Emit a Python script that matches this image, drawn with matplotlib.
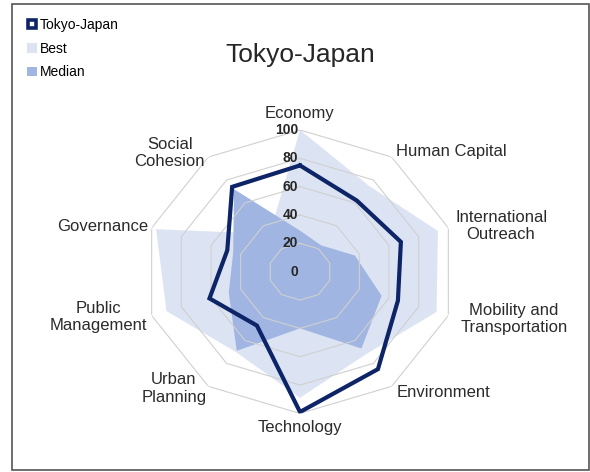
import numpy as np
import matplotlib
matplotlib.use("Agg")
import matplotlib.pyplot as plt
from matplotlib.transforms import offset_copy
from matplotlib.lines import Line2D
from matplotlib.patches import Patch, Rectangle

# ---------------- data ----------------
categories = ["Economy", "Human Capital", "International\nOutreach",
              "Mobility and\nTransportation", "Environment", "Technology",
              "Urban\nPlanning", "Public\nManagement", "Governance",
              "Social\nCohesion"]
tokyo = [75, 62, 68, 66, 85, 99, 47, 61, 49, 74]
best = [100, 75, 93, 92, 72, 89, 70, 90, 97, 33]
median = [29, 23, 37, 55, 67, 40, 69, 48, 45, 72]
ring_values = [0, 20, 40, 60, 80, 100]
series_names = ["Tokyo-Japan", "Best", "Median"]
chart_title = "Tokyo-Japan"

# ---------------- style ----------------
plt.rcParams["font.family"] = ["Liberation Sans", "DejaVu Sans"]
NAVY = "#0D2567"
BEST_C = "#DCE3F3"
MED_C = "#A0B5E1"
GRID_C = "#D0D0D0"
TXT_C = "#2B2B2B"

W, H = 590, 472
fig = plt.figure(figsize=(W / 100, H / 100), dpi=100)

cx, cy = 300, 271.7
rx, ry = 156, 141.7
ax = fig.add_axes([(cx - rx) / W, 1 - (cy + ry) / H, 2 * rx / W, 2 * ry / H],
                  projection="polar")
ax.set_aspect("auto")
ax.set_theta_zero_location("N")
ax.set_theta_direction(-1)
ax.set_ylim(0, 100)
ax.grid(False)
ax.set_xticks([])
ax.set_yticks([])
ax.spines["polar"].set_visible(False)
ax.patch.set_visible(False)

n = len(categories)
angles = np.linspace(0, 2 * np.pi, n, endpoint=False)
ac = np.append(angles, angles[0])

def close(v):
    return np.append(v, v[0])

ax.fill(ac, close(best), color=BEST_C, lw=0, zorder=1)
ax.fill(ac, close(median), color=MED_C, lw=0, zorder=2)
for v in ring_values[1:]:
    ax.plot(ac, np.full(n + 1, v), color=GRID_C, lw=0.8, zorder=3)
ax.plot(ac, close(tokyo), color=NAVY, lw=3.0, zorder=4,
        solid_joinstyle="miter")

# radial value labels
tr = offset_copy(ax.transData, fig=fig, x=-2, y=0, units="dots")
for v in ring_values:
    ax.text(0, v, str(v), transform=tr, ha="right", va="center",
            fontsize=10, fontweight="bold", color="#262626", zorder=6)

# category labels
label_layout = [(106, "center", "bottom"), (105, "left", "center"),
                (104.5, "left", "center"), (108, "left", "center"),
                (105, "left", "center"), (104.5, "center", "top"),
                (102, "right", "center"), (103, "right", "center"),
                (102.5, "right", "center"), (103.5, "right", "center")]
for ang, lab, (r, ha, va) in zip(angles, categories, label_layout):
    ax.text(ang, r, lab, ha=ha, va=va, fontsize=12, color=TXT_C,
            multialignment="center", zorder=6)

# title
fig.text(cx / W, 1 - 55 / H, chart_title, ha="center", va="center",
         fontsize=19, color="#262626")

# legend
handles = [Line2D([], [], marker="s", ls="none", markersize=5.5,
                  mfc="white", mec=NAVY, mew=2.6),
           Patch(facecolor=BEST_C, edgecolor="none"),
           Patch(facecolor=MED_C, edgecolor="none")]
fig.legend(handles, series_names, loc="upper left",
           bbox_to_anchor=(27 / W, 1 - 18 / H), frameon=False,
           fontsize=10, handlelength=0.7, handleheight=0.7,
           handletextpad=0.2, labelspacing=0.7, borderaxespad=0,
           borderpad=0)

# outer border
fig.add_artist(Rectangle((11.7 / W, 1 - 470 / H), (588.7 - 11.7) / W,
                         (470 - 3.5) / H, transform=fig.transFigure,
                         fill=False, edgecolor="#555555", lw=1.2))

fig.savefig("out.png", dpi=100)
